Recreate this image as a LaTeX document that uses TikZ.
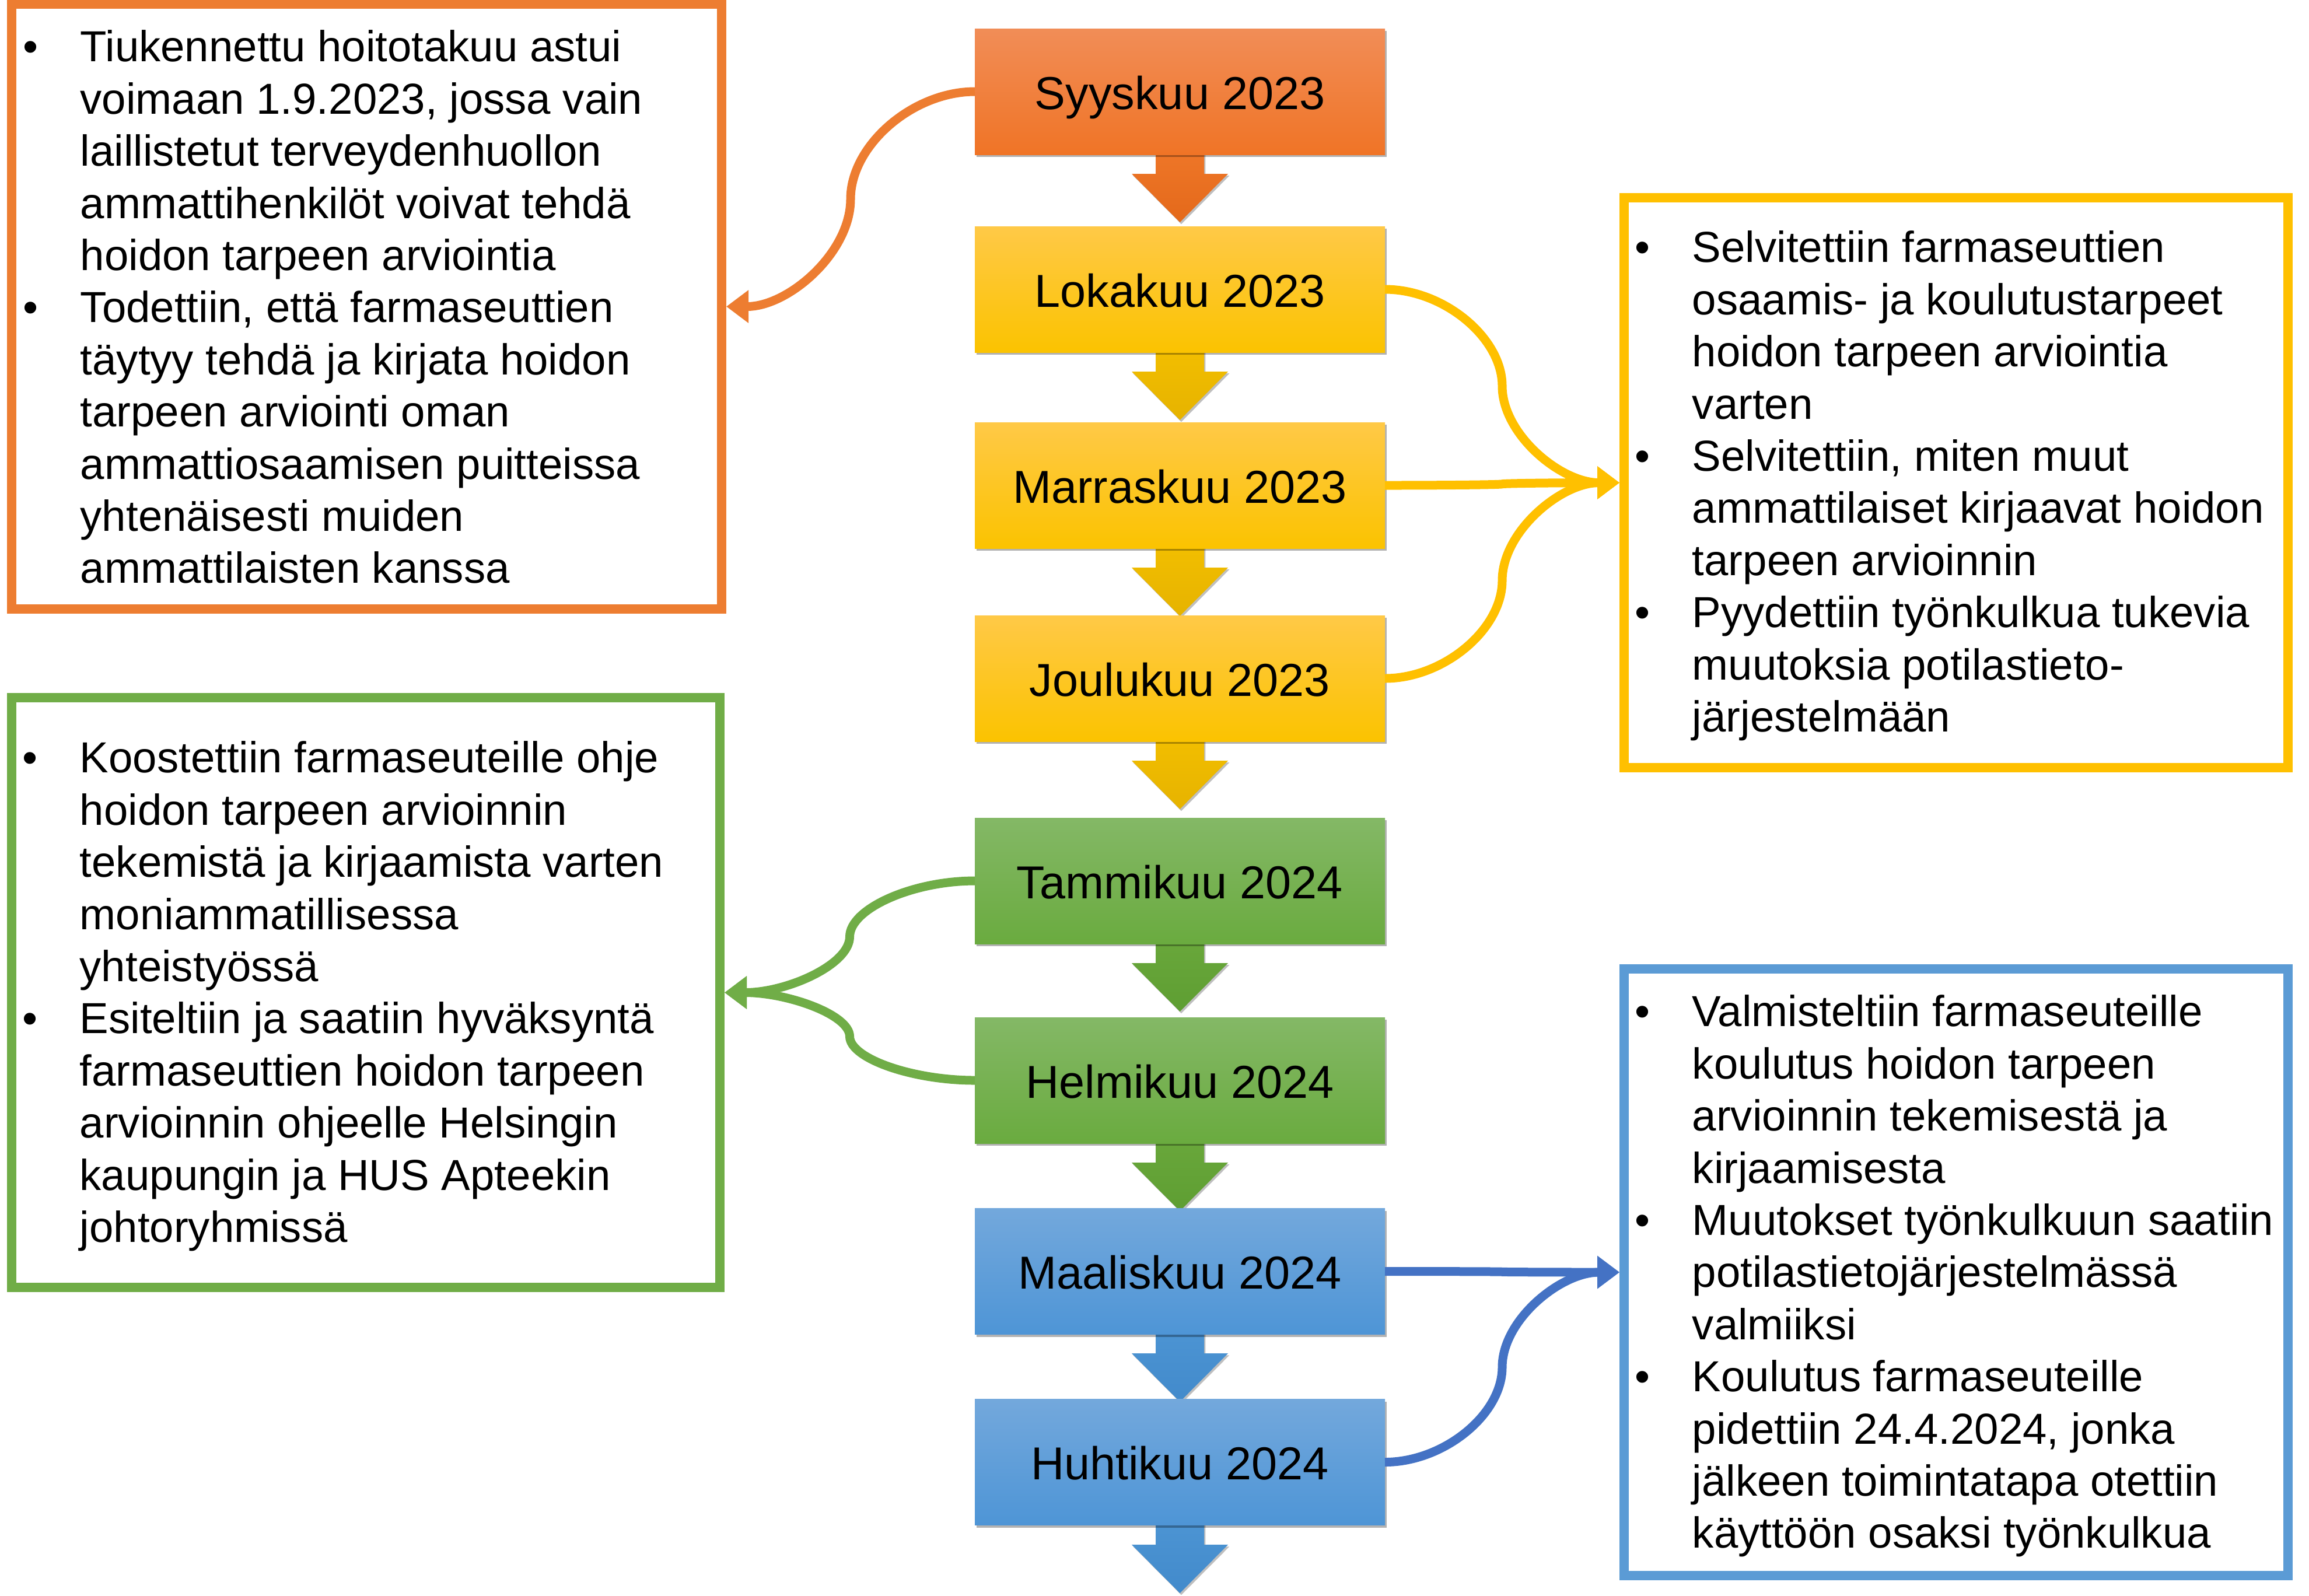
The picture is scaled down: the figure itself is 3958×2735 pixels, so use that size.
\documentclass[tikz,border=0pt]{standalone}
\usepackage{fontspec}
\setmainfont{Liberation Sans}
\usetikzlibrary{arrows.meta,shadows,calc}
\definecolor{orline}{HTML}{ED7D31}
\definecolor{yeline}{HTML}{FFC000}
\definecolor{grline}{HTML}{70AD47}
\definecolor{blline}{HTML}{5B9BD5}
\definecolor{blconn}{HTML}{4472C4}
\definecolor{orTop}{HTML}{F18D57}
\definecolor{orBot}{HTML}{F07426}
\definecolor{yeTop}{HTML}{FFC947}
\definecolor{yeBot}{HTML}{FBC300}
\definecolor{grTop}{HTML}{84B866}
\definecolor{grBot}{HTML}{6AAB3F}
\definecolor{blTop}{HTML}{73A8DC}
\definecolor{blBot}{HTML}{4E95D6}
\definecolor{orAT}{HTML}{EE7628}
\definecolor{orAB}{HTML}{E4691A}
\definecolor{yeAT}{HTML}{F2BE00}
\definecolor{yeAB}{HTML}{E6B300}
\definecolor{grAT}{HTML}{69A73B}
\definecolor{grAB}{HTML}{5E9E32}
\definecolor{blAT}{HTML}{4C94D3}
\definecolor{blAB}{HTML}{428ACB}
\newcommand\ccon[3]{\draw[#1] let \p1=(#2), \p2=(#3) in (\p1) .. controls ({0.75*\x1+0.25*\x2},\y1) and ({0.5*\x1+0.5*\x2},{0.75*\y1+0.25*\y2}) .. ({0.5*\x1+0.5*\x2},{0.5*\y1+0.5*\y2}) .. controls ({0.5*\x1+0.5*\x2},{0.25*\y1+0.75*\y2}) and ({0.25*\x1+0.75*\x2},\y2) .. (\p2);}
\newcommand\downarr[3]{\path[top color=#2, bottom color=#3, drop shadow={shadow xshift=0.6pt, shadow yshift=-0.8pt, opacity=0.25, fill=black}] (#1) ++(-41.5,-5) -- ++(0,38) -- ++(-41,0) -- ++(82.5,83) -- ++(82.5,-83) -- ++(-41,0) -- ++(0,-38) -- cycle;}
\newcommand\bi{\makebox[24.5pt][l]{•}}
\newcommand\ii{\hspace*{24.5pt}}
\begin{document}
\begin{tikzpicture}[x=0.25pt,y=-0.25pt,
  month/.style={rectangle, inner sep=0pt, outer sep=0pt, minimum width=175.75pt, minimum height=54pt,
    text height=15pt, text depth=0pt, font=\fontsize{19.8pt}{24pt}\selectfont,
    drop shadow={shadow xshift=0.8pt, shadow yshift=-1pt, opacity=0.3, fill=black}},
  infobox/.style={rectangle, inner sep=0pt, outer sep=2pt, line width=4pt, fill=white},
  side/.style={anchor=north west, inner sep=0pt, font=\fontsize{18.6pt}{22.35pt}\selectfont},
  conn/.style={line width=3.75pt, -{Triangle[length=9.5pt,width=13.5pt]}}]
\useasboundingbox (0,0) rectangle (3958,2735);
\fill[white] (0,0) rectangle (3958,2735);
% month boxes (positions)
\coordinate (c1) at (2022.5,157);
\coordinate (c2) at (2022.5,496);
\coordinate (c3) at (2022.5,832);
\coordinate (c4) at (2022.5,1163);
\coordinate (c5) at (2022.5,1510);
\coordinate (c6) at (2022.5,1852);
\coordinate (c7) at (2022.5,2179.5);
\coordinate (c8) at (2022.5,2506.5);
% down arrows (behind boxes)
\coordinate (a1) at (2022.5,265);
\coordinate (a2) at (2022.5,604);
\coordinate (a3) at (2022.5,940);
\coordinate (a4) at (2022.5,1271);
\coordinate (a5) at (2022.5,1618);
\coordinate (a6) at (2022.5,1960);
\coordinate (a7) at (2022.5,2287);
\coordinate (a8) at (2022.5,2615);
\downarr{a1}{orAT}{orAB}
\downarr{a2}{yeAT}{yeAB}
\downarr{a3}{yeAT}{yeAB}
\downarr{a4}{yeAT}{yeAB}
\downarr{a5}{grAT}{grAB}
\downarr{a6}{grAT}{grAB}
\downarr{a7}{blAT}{blAB}
\downarr{a8}{blAT}{blAB}
\node[month, top color=orTop, bottom color=orBot] (m1) at (c1) {Syyskuu 2023};
\node[month, top color=yeTop, bottom color=yeBot] (m2) at (c2) {Lokakuu 2023};
\node[month, top color=yeTop, bottom color=yeBot] (m3) at (c3) {Marraskuu 2023};
\node[month, top color=yeTop, bottom color=yeBot] (m4) at (c4) {Joulukuu 2023};
\node[month, top color=grTop, bottom color=grBot] (m5) at (c5) {Tammikuu 2024};
\node[month, top color=grTop, bottom color=grBot] (m6) at (c6) {Helmikuu 2024};
\node[month, top color=blTop, bottom color=blBot] (m7) at (c7) {Maaliskuu 2024};
\node[month, top color=blTop, bottom color=blBot] (m8) at (c8) {Huhtikuu 2024};
% info boxes
\node[infobox, draw=orline, minimum width=304.25pt, minimum height=259.25pt] (boxO) at (628.5,525.5) {};
\node[infobox, draw=grline, minimum width=303.5pt, minimum height=252.75pt] (boxG) at (627,1701.5) {};
\node[infobox, draw=yeline, minimum width=284.5pt, minimum height=244.25pt] (boxY) at (3353,827.5) {};
\node[infobox, draw=blline, minimum width=284.5pt, minimum height=260pt] (boxB) at (3353,2181) {};
% texts
\node[side] (txtO) at (39,42.4) {\begin{tabular}{@{}l@{}}
\bi Tiukennettu hoitotakuu astui\\
\ii voimaan 1.9.2023, jossa vain\\
\ii laillistetut terveydenhuollon\\
\ii ammattihenkilöt voivat tehdä\\
\ii hoidon tarpeen arviointia\\
\bi Todettiin, että farmaseuttien\\
\ii täytyy tehdä ja kirjata hoidon\\
\ii tarpeen arviointi oman\\
\ii ammattiosaamisen puitteissa\\
\ii yhtenäisesti muiden\\
\ii ammattilaisten kanssa
\end{tabular}};
\node[side] (txtG) at (38,1261.4) {\begin{tabular}{@{}l@{}}
\bi Koostettiin farmaseuteille ohje\\
\ii hoidon tarpeen arvioinnin\\
\ii tekemistä ja kirjaamista varten\\
\ii moniammatillisessa\\
\ii yhteistyössä\\
\bi Esiteltiin ja saatiin hyväksyntä\\
\ii farmaseuttien hoidon tarpeen\\
\ii arvioinnin ohjeelle Helsingin\\
\ii kaupungin ja HUS Apteekin\\
\ii johtoryhmissä
\end{tabular}};
\node[side] (txtY) at (2802,386.4) {\begin{tabular}{@{}l@{}}
\bi Selvitettiin farmaseuttien\\
\ii osaamis- ja koulutustarpeet\\
\ii hoidon tarpeen arviointia\\
\ii varten\\
\bi Selvitettiin, miten muut\\
\ii ammattilaiset kirjaavat hoidon\\
\ii tarpeen arvioinnin\\
\bi Pyydettiin työnkulkua tukevia\\
\ii muutoksia potilastieto-\\
\ii järjestelmään
\end{tabular}};
\node[side] (txtB) at (2802,1696.4) {\begin{tabular}{@{}l@{}}
\bi Valmisteltiin farmaseuteille\\
\ii koulutus hoidon tarpeen\\
\ii arvioinnin tekemisestä ja\\
\ii kirjaamisesta\\
\bi Muutokset työnkulkuun saatiin\\
\ii potilastietojärjestelmässä\\
\ii valmiiksi\\
\bi Koulutus farmaseuteille\\
\ii pidettiin 24.4.2024, jonka\\
\ii jälkeen toimintatapa otettiin\\
\ii käyttöön osaksi työnkulkua
\end{tabular}};
% connectors
\ccon{conn, orline}{m1.west}{boxO.east}
\ccon{conn, yeline}{m2.east}{boxY.west}
\ccon{conn, yeline}{m3.east}{boxY.west}
\ccon{conn, yeline}{m4.east}{boxY.west}
\ccon{conn, grline}{m5.west}{boxG.east}
\ccon{conn, grline}{m6.west}{boxG.east}
\ccon{conn, blconn}{m7.east}{boxB.west}
\ccon{conn, blconn}{m8.east}{boxB.west}
\end{tikzpicture}
\end{document}
